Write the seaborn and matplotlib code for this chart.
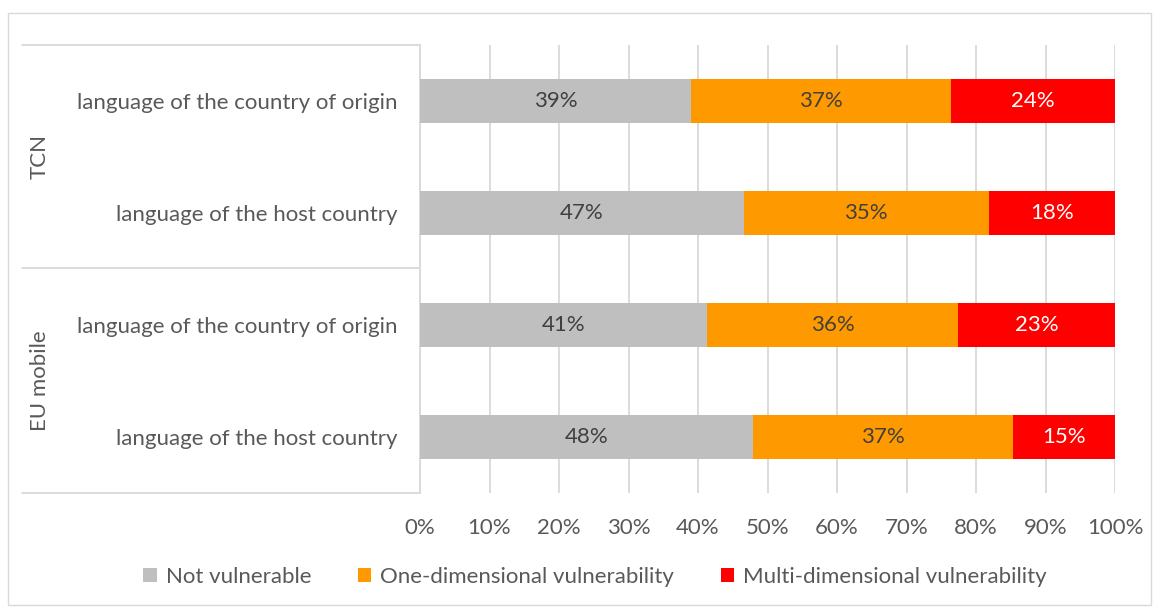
import matplotlib
matplotlib.use("Agg")
import matplotlib.pyplot as plt
import seaborn as sns
import numpy as np
import pandas as pd
from matplotlib.patches import Patch, Rectangle
from matplotlib.lines import Line2D

# ---- data ----
groups = ["TCN", "TCN", "EU mobile", "EU mobile"]
subcats = ["language of the country of origin", "language of the host country",
           "language of the country of origin", "language of the host country"]
not_vulnerable = [39.0, 46.6, 41.3, 47.9]
one_dim = [37.4, 35.2, 36.1, 37.4]
multi_dim = [23.6, 18.2, 22.6, 14.7]
series_names = ["Not vulnerable", "One-dimensional vulnerability", "Multi-dimensional vulnerability"]
x_ticks = [0, 10, 20, 30, 40, 50, 60, 70, 80, 90, 100]

colors = ["#BFBFBF", "#FF9900", "#FF0000"]
label_colors = ["#404040", "#404040", "#FFFFFF"]

sns.set_theme(style="white")
plt.rcParams['font.family'] = ['Lato', 'DejaVu Sans']
FS = 16

W, H = 1157, 608
fig = plt.figure(figsize=(W / 100, H / 100), dpi=100)
ax = fig.add_axes([420 / W, 1 - 493 / H, (1115 - 420) / W, (493 - 45) / H])

keys = [f"r{i}" for i in range(len(subcats))]
df = pd.DataFrame({"key": keys, "a": not_vulnerable, "b": one_dim, "c": multi_dim})
df["cum_a"] = df["a"]
df["cum_b"] = df["a"] + df["b"]
df["cum_c"] = df["a"] + df["b"] + df["c"]

for col, c in zip(["cum_c", "cum_b", "cum_a"], colors[::-1]):
    sns.barplot(data=df, x=col, y="key", orient="h", color=c, width=0.4,
                ax=ax, saturation=1, edgecolor="none", linewidth=0, zorder=3)

# data labels
for i in range(len(keys)):
    lefts = [0, df["cum_a"][i], df["cum_b"][i]]
    vals = [df["a"][i], df["b"][i], df["c"][i]]
    for l, v, lc in zip(lefts, vals, label_colors):
        ax.text(l + v / 2, i, f"{round(v):.0f}%", ha="center", va="center",
                color=lc, fontsize=FS, zorder=5)

ax.set_xlim(0, 100)
ax.set_ylim(3.5, -0.5)
ax.set_xticks(x_ticks)
ax.set_xticklabels([f"{t}%" for t in x_ticks], color="#595959", fontsize=FS)
ax.set_yticks(range(len(keys)))
ax.set_yticklabels(subcats, color="#595959", fontsize=FS)
ax.tick_params(axis="y", length=0, pad=16)
ax.tick_params(axis="x", length=0, pad=18)
ax.set_xlabel("")
ax.set_ylabel("")
ax.grid(axis="x", color="#D9D9D9", linewidth=1.3, zorder=0)
ax.set_axisbelow(True)
for s in ["top", "right", "bottom"]:
    ax.spines[s].set_visible(False)
ax.spines["left"].set_color("#D9D9D9")
ax.spines["left"].set_linewidth(1.3)

# category group lines and labels
for yy in [45, 268, 493]:
    fig.add_artist(Line2D([22 / W, 420 / W], [1 - yy / H, 1 - yy / H],
                          transform=fig.transFigure, color="#D9D9D9", linewidth=1.3))
group_names = ["TCN", "EU mobile"]
group_centers = [156.5, 380.5]
for g, yc in zip(group_names, group_centers):
    fig.text(40 / W, 1 - yc / H, g, rotation=90, ha="center", va="center",
             color="#595959", fontsize=FS)

# outer frame
fig.add_artist(Rectangle((8 / W, 1 - 605 / H), (1151 - 8) / W, (605 - 13) / H,
                         transform=fig.transFigure, fill=False,
                         edgecolor="#D9D9D9", linewidth=1.0))

handles = [Patch(facecolor=c, edgecolor="none", label=n) for c, n in zip(colors, series_names)]
fig.legend(handles=handles, loc="center", bbox_to_anchor=(595 / W, 1 - 577 / H),
           ncol=3, frameon=False, fontsize=FS, labelcolor="#595959",
           handlelength=0.6, handleheight=0.6, handletextpad=0.4, columnspacing=2.1)

fig.savefig("out.png", dpi=100, facecolor="white")
